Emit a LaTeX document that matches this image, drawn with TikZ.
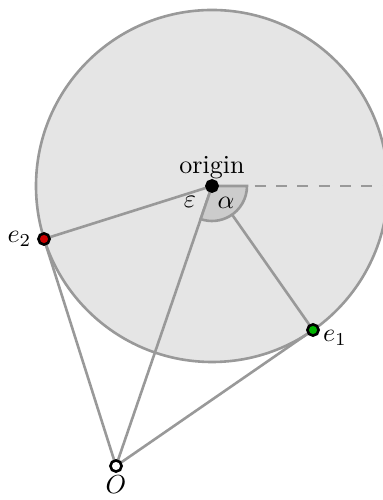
\documentclass[tikz,border=0pt]{standalone}
\usetikzlibrary{calc}

\begin{document}
\begin{tikzpicture}[
    x=0.384pt, y=0.384pt,
    disk/.style={
        draw=black!40, line width=1pt,
        fill=black!10
    },
    edge/.style={
        draw=black!40, line width=1pt
    },
    wedge/.style={
        draw=black!40, line width=1pt,
        fill=black!20
    },
    dot/.style={
        circle, draw=black, line width=1pt,
        inner sep=0pt, minimum size=4.3pt
    }
]

\useasboundingbox (0,0) rectangle (383,500);
\clip (0,0) rectangle (383,500);

% Points
\coordinate (c) at (212,314);
\coordinate (rim) at (383,314);

% Disk around the origin
\draw[disk] (c) circle[radius=176];

% Connections
\draw[edge] (c) -- (44,261) coordinate (p2);
\draw[edge] (c) -- (313,170) coordinate (p1);
\draw[edge] (c) -- (116,34) coordinate (p0);
\draw[edge] (p0) -- (p2);
\draw[edge] (p0) -- (p1);
\draw[edge, dash pattern=on 4.2pt off 4pt] (c) -- (rim);

% Angle alpha (from the dashed axis to the line towards O)
\filldraw[wedge] (c) -- ++(0:35) arc[start angle=0, end angle=-108.9, radius=35] -- cycle;
\node at (226,297) {$\alpha$};
\node at (190,298) {$\varepsilon$};

% Dots
\node[dot, fill=black, label={[inner sep=0pt]above:origin}] (origin) at (c) {};
\node[dot, fill=red!80!black, label={[inner sep=2pt]left:$e_2$}] (e2) at (p2) {};
\node[dot, fill=green!70!black, label={[inner sep=1pt, yshift=-3pt]right:$e_1$}] (e1) at (p1) {};
\node[dot, fill=white, label={[inner sep=1pt]below:$O$}] (O) at (p0) {};

\end{tikzpicture}
\end{document}
